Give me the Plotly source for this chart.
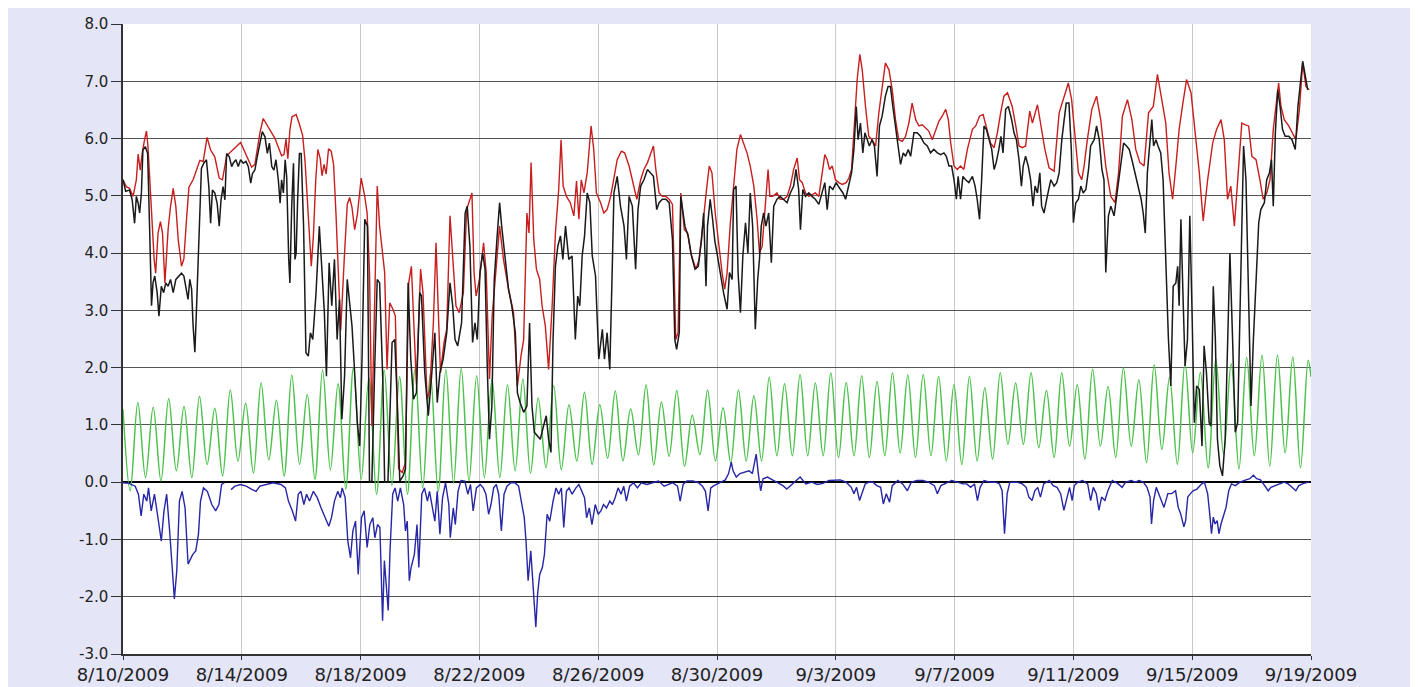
import plotly.graph_objects as go
import pandas as pd

# ---------------- data (day offsets from 8/10/2009 00:00) ----------------
red_days = [0.00,0.11,0.22,0.34,0.45,0.51,0.58,0.65,0.73,0.79,0.84,0.92,0.99,1.05,1.10,1.18,1.26,1.33,1.41,1.52,1.60,1.69,1.78,1.86,1.97,2.05,2.14,2.22,2.36,2.50,2.59,2.70,2.83,2.95,3.09,3.24,3.35,3.49,3.71,3.96,4.16,4.33,4.44,4.61,4.72,4.84,4.97,5.12,5.23,5.34,5.42,5.49,5.55,5.62,5.69,5.83,5.94,6.05,6.13,6.21,6.28,6.34,6.41,6.49,6.56,6.64,6.70,6.77,6.84,6.92,7.01,7.09,7.17,7.26,7.33,7.45,7.55,7.63,7.71,7.80,7.89,8.02,8.14,8.22,8.30,8.38,8.47,8.56,8.64,8.81,8.89,8.98,9.09,9.17,9.28,9.40,9.51,9.62,9.71,9.80,9.88,10.02,10.10,10.24,10.33,10.45,10.54,10.61,10.69,10.81,10.90,11.01,11.10,11.21,11.32,11.46,11.57,11.68,11.75,11.82,11.89,12.00,12.14,12.23,12.34,12.43,12.56,12.68,12.81,12.98,13.15,13.28,13.40,13.49,13.60,13.67,13.74,13.83,13.92,14.03,14.11,14.22,14.33,14.45,14.56,14.67,14.75,14.82,14.93,15.06,15.18,15.27,15.35,15.43,15.52,15.63,15.76,15.85,15.94,16.08,16.19,16.30,16.42,16.53,16.64,16.78,16.89,17.04,17.18,17.30,17.43,17.54,17.66,17.77,17.86,17.94,18.05,18.16,18.28,18.39,18.50,18.56,18.61,18.69,18.78,18.90,19.01,19.12,19.29,19.40,19.52,19.66,19.74,19.83,19.94,20.06,20.17,20.26,20.34,20.45,20.56,20.67,20.79,20.90,21.01,21.12,21.24,21.35,21.43,21.52,21.63,21.72,21.78,21.88,22.02,22.13,22.25,22.36,22.47,22.58,22.70,22.78,22.87,22.98,23.09,23.20,23.31,23.43,23.54,23.63,23.71,23.79,23.88,23.99,24.10,24.22,24.35,24.44,24.53,24.61,24.72,24.81,24.89,25.00,25.11,25.22,25.34,25.45,25.56,25.67,25.79,25.90,26.01,26.12,26.24,26.35,26.46,26.57,26.69,26.80,26.91,27.02,27.13,27.25,27.36,27.47,27.58,27.70,27.79,27.87,27.98,28.09,28.20,28.31,28.43,28.60,28.71,28.84,28.96,29.10,29.21,29.33,29.44,29.55,29.66,29.78,29.94,30.06,30.17,30.28,30.39,30.53,30.62,30.79,30.90,31.04,31.18,31.35,31.52,31.69,31.83,31.94,32.06,32.17,32.28,32.36,32.47,32.62,32.78,32.92,33.09,33.26,33.40,33.52,33.65,33.82,33.97,34.10,34.24,34.38,34.53,34.69,34.83,34.94,35.11,35.22,35.34,35.45,35.56,35.67,35.81,35.96,36.10,36.24,36.37,36.52,36.69,36.82,36.97,37.08,37.19,37.30,37.42,37.56,37.67,37.79,37.90,38.01,38.15,38.28,38.39,38.51,38.62,38.73,38.82,38.91,38.99,39.10,39.25,39.38,39.49,39.61,39.72,39.83,39.94]
red_vals = [5.28,5.16,5.13,4.99,5.28,5.73,5.45,5.76,5.99,6.13,5.87,5.05,4.47,3.88,3.65,4.35,4.55,4.35,3.48,4.42,4.81,5.13,4.81,4.23,3.77,3.90,4.60,5.15,5.28,5.50,5.62,5.60,6.02,5.80,5.68,5.31,5.28,5.70,5.81,5.93,5.70,5.50,5.55,6.10,6.35,6.25,6.12,6.00,5.85,5.70,5.72,5.99,5.65,6.15,6.38,6.42,6.25,6.05,5.60,4.85,4.10,3.77,4.30,5.28,5.81,5.65,5.35,5.55,5.38,5.82,5.78,5.55,4.70,3.40,2.65,3.90,4.85,4.97,4.80,4.41,4.67,5.31,4.99,4.70,3.66,0.98,3.00,5.17,4.47,3.66,1.97,3.13,3.02,2.90,0.23,0.17,0.34,3.48,3.77,2.60,1.70,3.72,3.31,1.45,1.62,2.78,4.18,3.08,1.91,2.44,2.67,4.65,4.00,3.08,2.96,3.31,4.76,4.94,5.05,3.66,3.25,3.54,4.18,3.66,1.80,2.90,3.72,4.47,3.89,3.37,2.96,1.68,2.20,2.49,4.70,4.35,5.58,4.24,3.72,3.54,3.08,2.73,1.97,3.08,4.35,5.11,5.98,5.17,4.99,4.88,4.65,5.26,4.59,5.28,5.05,5.40,6.22,5.81,5.05,4.88,4.70,4.76,4.99,5.34,5.63,5.78,5.75,5.52,5.23,4.94,5.28,5.46,5.58,5.75,5.87,5.46,5.05,4.99,4.99,4.94,4.85,3.66,2.49,2.61,5.05,4.41,4.35,4.00,3.72,3.89,4.53,5.17,5.52,5.40,4.70,4.12,3.66,3.37,3.66,4.53,5.11,5.81,6.07,5.92,5.75,5.52,5.17,4.59,4.00,4.12,4.94,5.46,4.99,4.99,5.05,4.94,4.94,4.99,5.17,5.46,5.66,5.28,5.23,5.05,4.99,5.02,5.05,4.99,5.40,5.72,5.63,5.46,5.52,5.28,5.23,5.20,5.23,5.31,5.46,6.10,7.03,7.47,7.20,6.56,6.04,5.98,5.87,6.45,6.91,7.32,7.20,6.85,6.33,5.98,5.95,6.04,6.27,6.62,6.33,6.22,6.24,6.19,6.13,5.98,6.16,6.30,6.39,6.51,6.33,5.92,5.52,5.46,5.52,5.46,5.81,6.16,6.22,6.39,6.42,6.16,5.92,5.84,6.10,6.45,6.74,6.80,6.56,6.22,5.87,5.84,5.87,6.48,6.27,6.59,6.27,5.81,5.49,5.43,6.45,6.74,6.97,6.68,5.98,5.40,5.28,5.52,5.98,6.51,6.74,6.33,5.52,4.99,4.88,5.40,6.39,6.68,6.33,5.81,5.58,5.52,6.45,6.56,7.12,6.80,6.27,5.40,4.94,5.52,6.16,6.56,7.03,6.80,6.10,5.40,4.56,5.28,5.92,6.16,6.33,5.98,4.94,5.17,4.47,5.40,6.27,6.24,6.22,5.69,5.63,5.28,4.94,5.05,5.28,6.16,6.56,6.97,6.56,6.33,6.22,6.10,5.98,6.51,7.32,6.91,6.85]

black_days = [0.00,0.09,0.22,0.31,0.39,0.45,0.51,0.56,0.62,0.67,0.75,0.83,0.90,0.96,1.01,1.07,1.15,1.21,1.29,1.37,1.44,1.52,1.60,1.69,1.78,1.89,1.97,2.05,2.14,2.19,2.25,2.31,2.36,2.42,2.47,2.53,2.59,2.64,2.72,2.81,2.89,2.95,3.01,3.09,3.17,3.24,3.30,3.37,3.43,3.49,3.58,3.66,3.71,3.80,3.88,3.96,4.05,4.14,4.22,4.30,4.36,4.44,4.52,4.61,4.69,4.78,4.86,4.93,5.01,5.08,5.15,5.23,5.29,5.34,5.40,5.46,5.51,5.58,5.62,5.68,5.74,5.79,5.83,5.88,5.94,6.00,6.08,6.16,6.24,6.31,6.39,6.50,6.61,6.69,6.78,6.85,6.94,7.03,7.12,7.21,7.29,7.37,7.46,7.55,7.63,7.71,7.80,7.89,7.97,8.05,8.14,8.23,8.30,8.38,8.47,8.56,8.64,8.75,8.81,8.92,9.06,9.15,9.24,9.32,9.43,9.51,9.60,9.69,9.78,9.88,9.99,10.05,10.16,10.28,10.39,10.50,10.58,10.67,10.78,10.90,11.01,11.10,11.18,11.27,11.40,11.52,11.59,11.68,11.77,11.85,11.93,12.02,12.11,12.19,12.27,12.34,12.42,12.50,12.59,12.68,12.75,12.87,12.98,13.09,13.21,13.28,13.37,13.49,13.60,13.69,13.77,13.85,13.94,14.05,14.16,14.25,14.33,14.41,14.48,14.56,14.64,14.73,14.81,14.90,15.01,15.12,15.23,15.31,15.38,15.46,15.54,15.63,15.72,15.80,15.91,16.02,16.14,16.21,16.30,16.39,16.47,16.53,16.64,16.75,16.87,16.95,17.04,17.15,17.26,17.34,17.43,17.54,17.66,17.77,17.86,17.97,18.05,18.16,18.28,18.39,18.50,18.58,18.64,18.73,18.78,18.92,19.03,19.14,19.26,19.37,19.48,19.55,19.63,19.68,19.77,19.85,19.93,20.00,20.11,20.22,20.34,20.42,20.51,20.56,20.64,20.71,20.79,20.87,20.96,21.04,21.12,21.20,21.29,21.37,21.43,21.49,21.57,21.65,21.74,21.83,21.91,22.02,22.13,22.25,22.36,22.47,22.58,22.66,22.75,22.81,22.89,22.98,23.09,23.20,23.31,23.43,23.54,23.63,23.71,23.79,23.90,24.01,24.12,24.24,24.33,24.44,24.53,24.61,24.69,24.75,24.83,24.91,24.98,25.06,25.13,25.22,25.30,25.39,25.47,25.56,25.67,25.76,25.84,25.92,26.01,26.10,26.18,26.27,26.35,26.44,26.52,26.63,26.74,26.85,26.97,27.08,27.19,27.30,27.42,27.53,27.64,27.72,27.81,27.90,27.98,28.06,28.12,28.20,28.28,28.37,28.48,28.60,28.69,28.76,28.84,28.91,28.99,29.07,29.16,29.25,29.33,29.40,29.49,29.56,29.63,29.72,29.81,29.92,30.00,30.08,30.17,30.25,30.31,30.39,30.48,30.56,30.64,30.71,30.79,30.87,30.93,31.01,31.12,31.24,31.35,31.44,31.52,31.61,31.69,31.76,31.85,31.93,32.00,32.08,32.17,32.25,32.33,32.42,32.51,32.58,32.70,32.78,32.87,32.96,33.03,33.09,33.18,33.26,33.37,33.48,33.60,33.69,33.79,33.88,33.97,34.08,34.19,34.28,34.35,34.42,34.49,34.57,34.64,34.70,34.78,34.85,34.94,35.02,35.11,35.20,35.28,35.36,35.45,35.51,35.56,35.62,35.70,35.76,35.84,35.92,35.99,36.07,36.15,36.24,36.33,36.40,36.48,36.57,36.63,36.71,36.78,36.85,36.93,37.02,37.11,37.19,37.27,37.36,37.45,37.53,37.64,37.73,37.81,37.90,37.98,38.06,38.15,38.24,38.31,38.43,38.51,38.60,38.67,38.73,38.80,38.88,38.96,39.04,39.13,39.25,39.36,39.47,39.56,39.64,39.72,39.81,39.89]
black_vals = [5.28,5.08,5.10,4.93,4.52,4.99,4.87,4.70,5.05,5.80,5.86,5.74,4.35,3.08,3.48,3.60,3.31,2.90,3.42,3.31,3.48,3.42,3.54,3.31,3.54,3.60,3.65,3.60,3.31,3.19,3.54,3.37,2.73,2.27,2.96,4.00,4.93,5.48,5.57,5.63,5.16,4.52,5.10,5.05,4.87,4.47,4.93,5.16,4.93,5.74,5.68,5.51,5.57,5.63,5.51,5.63,5.57,5.60,5.51,5.22,5.39,5.45,5.68,5.92,6.12,6.03,5.74,5.92,5.51,5.45,5.63,5.28,4.87,5.28,5.05,5.63,5.34,3.89,3.48,4.81,5.57,3.89,4.00,4.93,5.74,5.74,4.47,2.26,2.20,2.61,2.49,3.31,4.47,3.77,2.96,1.85,3.83,3.08,3.89,2.49,3.19,1.10,1.85,3.54,3.19,2.73,1.91,1.04,0.63,2.20,4.59,4.47,0.00,0.02,1.91,3.54,3.48,1.74,0.00,0.00,2.44,2.49,1.33,0.02,0.11,0.23,3.48,2.15,1.45,1.56,3.31,3.25,1.91,1.16,1.85,2.61,1.39,1.91,2.15,2.61,3.48,3.08,2.49,2.38,2.78,4.70,4.82,4.12,2.44,2.78,2.49,3.66,4.00,3.72,1.91,0.75,1.33,3.54,4.24,4.88,4.47,3.95,3.37,3.08,2.61,1.56,1.39,1.22,1.33,2.78,1.33,0.87,0.81,0.75,0.98,1.16,0.75,0.52,2.49,3.77,4.12,4.30,3.89,4.47,3.89,3.95,2.49,3.25,3.08,3.95,4.30,5.05,4.88,3.95,3.60,2.15,2.67,2.15,2.61,1.97,3.66,5.05,5.34,4.82,4.47,3.89,4.99,4.82,3.72,4.76,5.17,5.28,5.46,5.40,5.34,4.76,4.88,4.94,4.94,4.88,4.24,2.49,2.32,2.61,4.99,4.47,4.30,3.95,3.72,3.77,4.24,4.70,3.42,4.47,4.94,4.60,4.20,4.00,3.66,3.31,3.02,3.66,3.54,5.11,5.17,3.66,2.96,3.95,4.53,4.00,5.05,4.47,2.67,3.54,3.89,4.47,4.70,4.47,4.70,3.83,4.82,4.94,4.99,4.94,4.88,5.05,5.17,5.46,5.11,4.41,5.11,4.99,5.05,4.99,4.94,4.85,5.05,5.23,4.76,5.17,5.11,5.23,5.14,5.05,4.94,5.17,5.40,5.81,6.56,5.98,6.27,5.75,6.10,5.98,5.87,5.98,5.87,5.34,6.22,6.39,6.74,6.91,6.91,6.56,6.22,5.92,5.55,5.75,5.69,5.81,5.69,6.10,6.10,6.04,5.92,5.87,5.75,5.81,5.75,5.72,5.75,5.69,5.52,5.52,5.28,4.94,5.34,4.94,5.34,5.28,5.23,5.34,5.17,4.94,4.59,5.28,6.22,6.16,5.98,5.81,5.46,5.58,5.81,6.04,5.75,6.51,6.56,6.33,6.10,5.98,5.63,5.17,5.52,5.69,5.52,5.28,4.82,5.17,5.05,5.40,4.82,4.70,4.99,5.28,5.17,5.23,5.40,5.98,6.33,6.62,6.62,5.81,4.53,4.88,4.94,5.17,5.05,5.11,5.46,5.87,5.98,6.22,5.98,5.46,5.28,3.66,4.65,4.82,4.65,5.11,5.52,5.92,5.87,5.81,5.63,5.40,5.17,4.94,4.70,4.35,5.40,5.87,6.33,5.87,5.98,5.87,5.75,5.28,3.66,2.49,1.68,3.42,3.48,3.77,3.08,4.59,3.08,2.03,2.49,4.65,3.08,1.04,1.68,1.62,0.63,2.38,1.91,1.04,0.98,3.42,2.49,0.75,0.29,0.11,0.75,2.20,4.00,2.49,0.87,1.04,3.66,5.87,5.28,3.19,1.33,2.49,3.66,4.53,4.76,4.88,5.28,5.40,5.63,4.82,6.10,6.85,6.56,6.16,6.04,6.04,5.98,5.81,6.56,7.03,7.35,7.09,6.85]

blue_days = [0.00,0.20,0.41,0.52,0.61,0.70,0.80,0.86,0.95,1.06,1.16,1.29,1.38,1.47,1.57,1.68,1.73,1.81,1.90,1.99,2.09,2.19,2.35,2.45,2.54,2.61,2.71,2.84,2.99,3.12,3.23,3.32,3.41,3.50,3.64,3.77,3.96,4.15,4.35,4.48,4.61,4.80,5.06,5.32,5.47,5.57,5.70,5.81,5.90,5.99,6.09,6.18,6.28,6.41,6.54,6.67,6.80,6.93,7.02,7.12,7.23,7.32,7.38,7.48,7.57,7.66,7.74,7.83,7.92,8.03,8.12,8.22,8.31,8.41,8.48,8.57,8.65,8.74,8.80,8.86,8.93,8.99,9.08,9.16,9.25,9.34,9.45,9.51,9.57,9.64,9.70,9.81,9.90,9.96,10.06,10.15,10.25,10.32,10.41,10.50,10.58,10.67,10.76,10.86,10.97,11.02,11.12,11.19,11.28,11.38,11.51,11.61,11.70,11.79,11.90,12.03,12.13,12.22,12.31,12.39,12.48,12.57,12.65,12.74,12.83,12.93,13.06,13.19,13.32,13.42,13.51,13.57,13.64,13.73,13.82,13.90,13.96,14.03,14.12,14.19,14.28,14.37,14.48,14.58,14.67,14.76,14.84,14.93,15.02,15.12,15.25,15.35,15.45,15.54,15.61,15.70,15.79,15.90,16.00,16.09,16.18,16.28,16.39,16.48,16.57,16.67,16.77,16.86,16.95,17.06,17.19,17.32,17.45,17.64,17.83,18.03,18.22,18.35,18.50,18.67,18.76,18.86,18.99,19.19,19.38,19.51,19.61,19.70,19.79,19.90,20.09,20.28,20.39,20.48,20.54,20.65,20.77,20.93,21.08,21.19,21.32,21.39,21.47,21.55,21.70,21.90,22.06,22.22,22.35,22.48,22.67,22.80,22.99,23.19,23.38,23.57,23.77,23.96,24.15,24.35,24.52,24.61,24.70,24.80,24.90,24.99,25.12,25.25,25.38,25.51,25.60,25.70,25.81,25.90,26.09,26.25,26.41,26.54,26.74,26.93,27.12,27.32,27.42,27.54,27.70,27.90,28.09,28.28,28.41,28.54,28.67,28.77,28.86,28.99,29.19,29.38,29.51,29.60,29.68,29.77,29.86,30.09,30.28,30.41,30.50,30.61,30.70,30.80,30.89,31.00,31.19,31.32,31.45,31.57,31.68,31.77,31.87,31.96,32.03,32.15,32.31,32.48,32.58,32.67,32.77,32.86,32.95,33.06,33.16,33.31,33.51,33.64,33.76,33.95,34.08,34.21,34.35,34.48,34.58,34.63,34.70,34.79,34.88,34.96,35.05,35.18,35.31,35.44,35.53,35.61,35.72,35.78,35.85,35.94,36.03,36.16,36.32,36.41,36.52,36.59,36.65,36.71,36.77,36.84,36.90,36.97,37.03,37.14,37.23,37.32,37.45,37.61,37.81,37.94,38.06,38.17,38.30,38.45,38.56,38.65,38.77,38.94,39.10,39.23,39.36,39.49,39.59,39.75,39.94]
blue_vals = [-0.01,-0.02,-0.07,-0.21,-0.59,-0.21,-0.33,-0.10,-0.50,-0.21,-0.56,-1.03,-0.50,-0.21,-0.85,-1.72,-2.04,-1.55,-0.33,-0.16,-0.45,-1.43,-1.26,-1.20,-0.91,-0.33,-0.10,-0.16,-0.39,-0.50,-0.39,-0.04,-0.01,None,-0.13,-0.07,-0.04,-0.07,-0.13,-0.16,-0.07,-0.04,-0.01,-0.04,-0.10,-0.33,-0.50,-0.68,-0.21,-0.16,-0.39,-0.21,-0.33,-0.16,-0.27,-0.45,-0.62,-0.77,-0.62,-0.33,-0.16,-0.27,-0.10,-0.27,-1.03,-1.32,-0.85,-0.68,-1.61,-0.62,-0.50,-1.14,-0.74,-0.62,-0.97,-0.74,-0.79,-2.42,-1.37,-1.72,-2.24,-1.20,-0.21,-0.10,-0.33,-0.10,-0.39,-0.85,-0.68,-1.72,-1.49,-1.26,-0.74,-1.49,-0.21,-0.10,-0.33,-0.16,-0.39,-0.68,-0.16,-0.91,-0.27,-0.01,-0.39,-0.97,-0.45,-0.74,-0.16,0.03,0.02,-0.21,-0.04,-0.50,-0.10,-0.04,-0.10,-0.21,-0.56,-0.39,-0.10,-0.04,-0.21,-0.85,-0.21,-0.07,-0.01,-0.01,-0.07,-0.33,-0.62,-1.03,-1.72,-1.20,-1.95,-2.53,-1.95,-1.61,-1.49,-1.26,-0.56,-0.68,-0.33,-0.10,-0.21,-0.10,-0.79,-0.16,-0.10,-0.21,-0.10,-0.04,-0.16,-0.27,-0.62,-0.45,-0.74,-0.39,-0.56,-0.50,-0.39,-0.45,-0.33,-0.39,-0.27,-0.10,-0.21,-0.07,-0.33,-0.07,-0.01,-0.10,-0.01,-0.04,-0.01,0.02,-0.07,-0.04,-0.01,-0.07,-0.33,-0.04,0.02,0.02,-0.01,-0.07,-0.16,-0.50,-0.10,-0.06,-0.01,0.04,0.15,0.35,0.20,0.09,0.15,0.17,0.20,0.15,0.49,0.15,-0.15,0.06,0.09,0.03,-0.01,-0.06,-0.12,-0.06,0.03,0.09,-0.03,0.00,-0.04,-0.02,0.03,0.04,0.04,0.00,-0.09,-0.20,-0.09,-0.32,-0.15,-0.03,0.00,0.00,-0.06,-0.09,-0.38,-0.20,-0.35,-0.06,0.03,-0.03,-0.15,0.00,0.03,0.03,0.00,-0.06,-0.20,-0.06,-0.02,0.03,0.00,-0.03,-0.03,-0.09,-0.03,-0.32,-0.09,0.03,0.00,0.00,-0.03,-0.15,-0.90,-0.20,0.00,0.00,-0.03,-0.09,-0.26,-0.32,-0.15,-0.09,-0.26,-0.03,0.03,-0.06,-0.09,-0.20,-0.49,-0.32,-0.09,-0.32,-0.06,0.00,0.03,-0.03,-0.32,-0.09,-0.20,-0.49,-0.26,-0.32,-0.15,0.03,-0.03,-0.09,0.00,0.03,0.00,0.03,0.00,-0.09,-0.26,-0.73,-0.32,-0.09,-0.20,-0.32,-0.44,-0.20,-0.20,-0.15,-0.44,-0.55,-0.78,-0.67,-0.26,-0.20,-0.15,-0.12,-0.03,0.00,-0.20,-0.55,-0.90,-0.61,-0.73,-0.67,-0.90,-0.73,-0.61,-0.44,-0.15,-0.03,-0.06,0.00,0.04,0.06,0.12,0.06,0.04,-0.06,-0.15,-0.09,-0.06,-0.03,0.00,-0.03,-0.09,-0.15,-0.06,-0.02,0.00]

# green: tide high / low turning points (hours from 8/10/2009 00:00)
green_hours = [0.0,5.8,12.0,18.2,24.4,30.7,36.9,43.1,49.3,55.6,61.8,68.0,74.2,80.5,86.7,92.9,99.1,105.4,111.6,117.8,124.0,130.2,136.4,142.7,148.9,155.1,161.3,167.6,173.8,180.0,186.2,192.5,198.7,204.9,211.1,217.3,223.5,229.8,236.0,242.2,248.4,254.7,260.9,267.1,273.3,279.6,285.8,292.0,298.2,304.5,310.7,316.9,323.1,329.3,335.5,341.8,348.0,354.2,360.4,366.7,372.9,379.1,385.3,391.6,397.8,404.0,410.2,416.5,422.7,428.9,435.1,441.3,447.5,453.8,460.0,466.2,472.4,478.7,484.9,491.1,497.3,503.6,509.8,516.0,522.2,528.4,534.6,540.9,547.1,553.3,559.5,565.8,572.0,578.2,584.4,590.7,596.9,603.1,609.3,615.6,621.8,628.0,634.2,640.4,646.6,652.9,659.1,665.3,671.5,677.8,684.0,690.2,696.4,702.7,708.9,715.1,721.3,727.6,733.8,740.0,746.2,752.4,758.6,764.9,771.1,777.3,783.5,789.8,796.0,802.2,808.4,814.7,820.9,827.1,833.3,839.5,845.7,852.0,858.2,864.4,870.6,876.9,883.1,889.3,895.5,901.8,908.0,914.2,920.4,926.7,932.9,939.1,945.3,951.5,957.7,960.0]
green_vals = [1.27,-0.15,1.39,0.08,1.31,0.02,1.46,0.20,1.32,0.08,1.50,0.31,1.29,0.11,1.61,0.37,1.38,0.16,1.73,0.39,1.43,0.11,1.87,0.31,1.53,0.05,1.96,0.22,1.72,-0.12,2.00,0.05,1.82,-0.21,1.96,-0.06,1.84,-0.21,1.97,-0.10,1.90,-0.16,1.97,-0.02,1.99,0.02,1.86,0.08,1.80,0.08,1.70,0.20,1.80,0.16,1.47,0.25,1.69,0.22,1.35,0.37,1.57,0.31,1.35,0.42,1.59,0.37,1.28,0.48,1.70,0.30,1.40,0.45,1.60,0.28,1.17,0.48,1.61,0.37,1.30,0.34,1.61,0.37,1.51,0.37,1.83,0.46,1.72,0.46,1.88,0.46,1.73,0.46,1.91,0.43,1.74,0.46,1.86,0.43,1.76,0.46,1.91,0.51,1.87,0.43,1.88,0.46,1.85,0.37,1.70,0.31,1.85,0.37,1.65,0.40,1.91,0.66,1.73,0.66,1.91,0.60,1.60,0.43,1.91,0.63,1.70,0.40,1.97,0.63,1.67,0.43,2.00,0.63,1.79,0.34,2.05,0.57,1.83,0.31,2.08,0.51,1.92,0.25,2.15,0.49,2.07,0.23,2.18,0.46,2.22,0.28,2.22,0.51,2.19,0.25,2.13,1.84]

x_tick_days = [0, 4, 8, 12, 16, 20, 24, 28, 32, 36, 40]
y_ticks = [-3, -2, -1, 0, 1, 2, 3, 4, 5, 6, 7, 8]

# ---------------- figure ----------------
base = pd.Timestamp("2009-08-10")
def days_to_time(days):
    return [base + pd.Timedelta(days=d) for d in days]

green_x = [base + pd.Timedelta(hours=h) for h in green_hours]

fig = go.Figure()
fig.add_trace(go.Scatter(x=green_x, y=green_vals, mode="lines",
                         line=dict(color="#4cc24c", width=1.5, shape="spline", smoothing=1.0),
                         showlegend=False, hoverinfo="skip"))
fig.add_trace(go.Scatter(x=days_to_time(blue_days), y=blue_vals, mode="lines",
                         line=dict(color="#2626a6", width=1.4), connectgaps=False,
                         showlegend=False))
fig.add_trace(go.Scatter(x=days_to_time(red_days), y=red_vals, mode="lines",
                         line=dict(color="#c81e1e", width=1.4), showlegend=False))
fig.add_trace(go.Scatter(x=days_to_time(black_days), y=black_vals, mode="lines",
                         line=dict(color="#1a1a1a", width=1.5), showlegend=False))

tick_times = days_to_time(x_tick_days)
tick_text = [f"{t.month}/{t.day}/{t.year}" for t in tick_times]

fig.update_layout(
    width=1403, height=679,
    margin=dict(l=115, r=100, t=16, b=33, autoexpand=False),
    paper_bgcolor="#e4e5f7",
    plot_bgcolor="white",
    showlegend=False,
    font=dict(family="DejaVu Sans", color="#222222"),
)
fig.update_xaxes(
    type="date", automargin=False,
    range=[tick_times[0], tick_times[-1]],
    tickvals=tick_times, ticktext=tick_text,
    tickfont=dict(size=18, family="DejaVu Sans", color="#222222"),
    showgrid=True, gridcolor="#c8c8c8", gridwidth=1,
    showline=True, linecolor="#333333", linewidth=1.5,
    ticks="outside", ticklen=4, tickcolor="#333333",
    zeroline=False,
)
fig.update_yaxes(
    automargin=False,
    range=[-3, 8],
    tickvals=y_ticks, ticktext=[f"{v:.1f}" for v in y_ticks],
    tickfont=dict(size=15, family="DejaVu Sans", color="#222222"),
    showgrid=True, gridcolor="#555555", gridwidth=1,
    showline=True, linecolor="#333333", linewidth=1.5,
    ticks="outside", ticklen=10, tickcolor="#333333",
    zeroline=True, zerolinecolor="#000000", zerolinewidth=2,
)

fig.write_html("out.html")
